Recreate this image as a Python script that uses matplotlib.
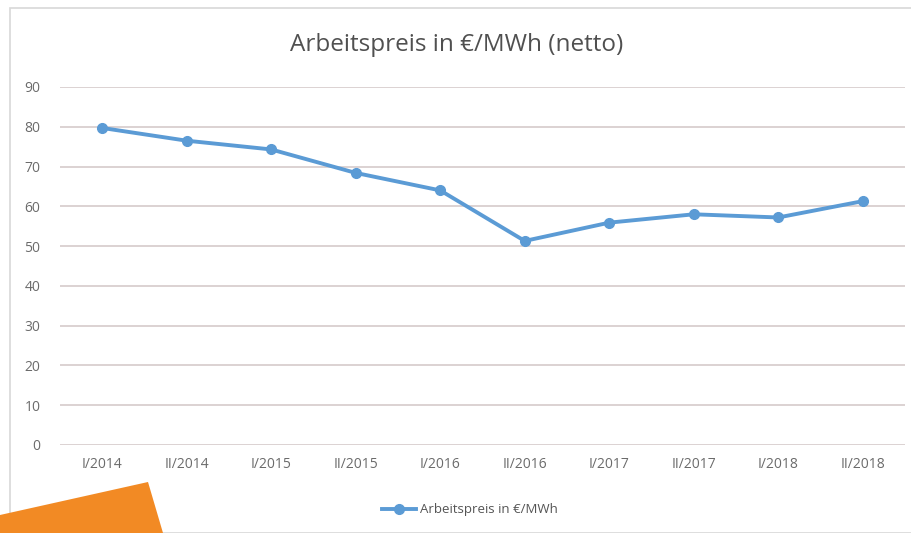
import matplotlib.pyplot as plt
from matplotlib.patches import Polygon, Rectangle

# Data
categories = ['I/2014', 'II/2014', 'I/2015', 'II/2015', 'I/2016',
              'II/2016', 'I/2017', 'II/2017', 'I/2018', 'II/2018']
prices = [79.7, 76.5, 74.3, 68.4, 64.0, 51.3, 55.9, 58.0, 57.2, 61.3]
yticks = [0, 10, 20, 30, 40, 50, 60, 70, 80, 90]

plt.rcParams['font.family'] = ['Open Sans', 'DejaVu Sans']

fig = plt.figure(figsize=(9.12, 5.33), dpi=100)
fig.patch.set_facecolor('white')

# chart frame
fig.patches.append(Rectangle((10 / 912, 0.0), 1.1, 1 - 8 / 533, transform=fig.transFigure,
                             facecolor='none', edgecolor='#d8d8d8', linewidth=1.2, zorder=0))

ax = fig.add_axes([60 / 912, 1 - 445 / 533, 845 / 912, 358 / 533])
ax.set_facecolor('none')
ax.set_zorder(2)

x = list(range(len(categories)))
line, = ax.plot(x, prices, color='#5b9bd5', linewidth=2.8, marker='o', markersize=7,
                label='Arbeitspreis in €/MWh', zorder=3)

ax.set_xlim(-0.5, len(categories) - 0.5)
ax.set_ylim(0, 90)
ax.set_yticks(yticks)
ax.set_xticks(x)
ax.set_xticklabels(categories)
ax.yaxis.grid(True, color='#d9cfcf', linewidth=1.3)
ax.set_axisbelow(True)
for s in ax.spines.values():
    s.set_visible(False)
ax.tick_params(length=0, colors='#6b6b6b', labelsize=10)
ax.tick_params(axis='y', pad=14)
ax.tick_params(axis='x', pad=9)

fig.text(457 / 912, 1 - 45 / 533, 'Arbeitspreis in €/MWh (netto)', ha='center', va='center',
         fontsize=17.5, color='#505050')

fig.legend(handles=[line], loc='center', bbox_to_anchor=(470 / 912, 1 - 510 / 533),
           frameon=False, fontsize=9.5, labelcolor='#555555', handlelength=2.6,
           handletextpad=0.3)

# orange decoration in the lower left corner
fig.patches.append(Polygon([(0, 1 - 515 / 533), (148 / 912, 1 - 482 / 533),
                            (163 / 912, 0), (0, 0)], closed=True, transform=fig.transFigure,
                           facecolor='#f28a24', edgecolor='none', zorder=5))

fig.savefig('out.png', dpi=100)
